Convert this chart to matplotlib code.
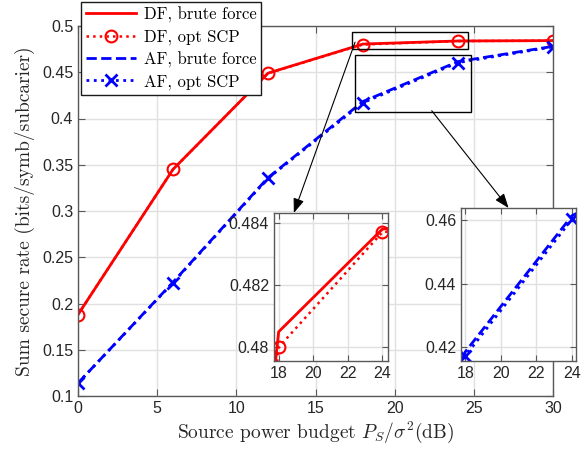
import numpy as np
import matplotlib
matplotlib.use("Agg")
import matplotlib.pyplot as plt
from matplotlib.patches import Rectangle, ConnectionPatch

plt.rcParams['mathtext.fontset'] = 'cm'
plt.rcParams['font.family'] = 'Liberation Sans'

# data
snr = [0, 6, 12, 18, 24, 30]
df_brute = [0.188, 0.345, 0.449, 0.4805, 0.4838, 0.4842]
df_scp = [0.188, 0.345, 0.449, 0.4800, 0.4837, 0.4841]
af_brute = [0.114, 0.223, 0.336, 0.4184, 0.4615, 0.478]
af_scp = [0.114, 0.2225, 0.3353, 0.4171, 0.4604, 0.4775]

labels = ['DF, brute force', 'DF, opt SCP', 'AF, brute force', 'AF, opt SCP']

W, H = 581, 453
fig = plt.figure(figsize=(W / 100, H / 100), dpi=100)

def px_axes(l, t, r, b):
    return fig.add_axes([l / W, 1 - b / H, (r - l) / W, (b - t) / H])

spine_col = '0.35'
tick_col = '0.15'
grid_col = '0.88'


def style(ax, ticklen=5):
    for s in ax.spines.values():
        s.set_color(spine_col)
        s.set_linewidth(1.0)
    ax.tick_params(direction='in', top=True, right=True, length=ticklen,
                   width=0.8, color=spine_col, labelcolor=tick_col, labelsize=11.5)
    ax.grid(True, color=grid_col, lw=1.0)
    ax.set_axisbelow(True)


def draw(ax):
    ax.plot(snr, df_brute, '-', color='red', lw=2, label=labels[0])
    ax.plot(snr, df_scp, ':', color='red', lw=1.8, marker='o', ms=8.5,
            mfc='none', mew=1.5, label=labels[1])
    ax.plot(snr, af_brute, '--', color='blue', lw=2, label=labels[2])
    ax.plot(snr, af_scp, ':', color='blue', lw=2, marker='x', ms=8.5,
            mew=2, label=labels[3])


# main axes
ax = px_axes(78, 26, 553, 396)
style(ax)
draw(ax)
ax.set_xlim(0, 30)
ax.set_ylim(0.1, 0.5)
ax.set_xticks([0, 5, 10, 15, 20, 25, 30])
ax.set_yticks(np.arange(0.1, 0.501, 0.05))
ax.set_yticklabels(['0.1', '0.15', '0.2', '0.25', '0.3', '0.35', '0.4', '0.45', '0.5'])
ax.set_xlabel(r'Source power budget $P_S/\sigma^2$(dB)', fontfamily='cmr10',
              fontsize=14, color='0.15', labelpad=3)
ax.set_ylabel('Sum secure rate (bits/symb/subcarier)', fontfamily='cmr10',
              fontsize=14, color='0.15', labelpad=5)

# zoom rectangles
ax.add_patch(Rectangle((17.33, 0.4747), 24.66 - 17.33, 0.4934 - 0.4747,
                       fill=False, ec='black', lw=1.0, zorder=5))
ax.add_patch(Rectangle((17.47, 0.4066), 24.8 - 17.47, 0.4689 - 0.4066,
                       fill=False, ec='black', lw=1.0, zorder=5))

leg = ax.legend(loc='upper left', bbox_to_anchor=(81 / W, 1 - 1.5 / H),
                bbox_transform=fig.transFigure, borderaxespad=0,
                prop={'family': 'cmr10', 'size': 12}, fancybox=False,
                framealpha=1, edgecolor='0.1', handlelength=3.0,
                labelspacing=0.38, borderpad=0.3, handletextpad=0.45)
leg.get_frame().set_linewidth(1.0)

# inset 1: DF
ax1 = px_axes(274, 213, 388, 361)
style(ax1, ticklen=4)
draw(ax1)
ax1.set_xlim(17.73, 24.33)
ax1.set_ylim(0.47956, 0.48432)
ax1.set_xticks([18, 20, 22, 24])
ax1.set_yticks([0.48, 0.482, 0.484])
ax1.set_yticklabels(['0.48', '0.482', '0.484'])

# inset 2: AF
ax2 = px_axes(461, 208, 576, 361)
style(ax2, ticklen=4)
draw(ax2)
ax2.set_xlim(17.76, 24.22)
ax2.set_ylim(0.4155, 0.4639)
ax2.set_xticks([18, 20, 22, 24])
ax2.set_yticks([0.42, 0.44, 0.46])
ax2.set_yticklabels(['0.42', '0.44', '0.46'])

# arrows from the boxes to the insets
for src, dst, target in [((17.5, 0.4825), (0.174, 1.0), ax1),
                         ((22.34, 0.4084), (0.414, 1.0), ax2)]:
    con = ConnectionPatch(xyA=src, coordsA=ax.transData, xyB=dst,
                          coordsB=target.transAxes,
                          arrowstyle='-|>,head_length=0.8,head_width=0.3',
                          color='black', lw=0.8, mutation_scale=11, zorder=10)
    fig.add_artist(con)

fig.savefig('out.png', dpi=100)
